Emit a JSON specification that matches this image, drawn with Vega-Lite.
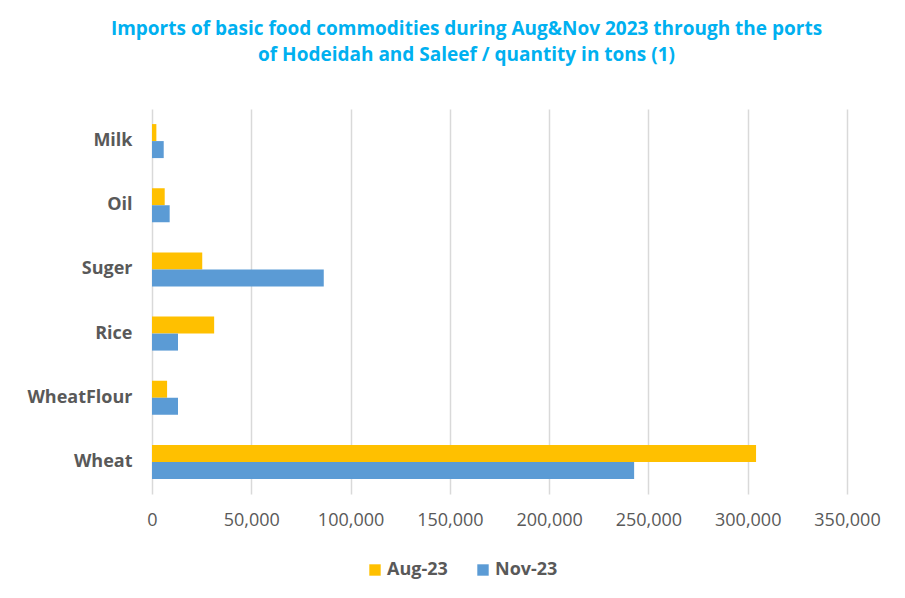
{
  "$schema": "https://vega.github.io/schema/vega-lite/v6.json",
  "width": 695,
  "height": 385,
  "autosize": {"type": "none"},
  "padding": {"left": 152, "top": 109, "right": 58, "bottom": 104},
  "background": "white",
  "title": {
    "text": ["Imports of basic food commodities during Aug&Nov 2023 through the ports", "of Hodeidah and Saleef / quantity in tons (1)"],
    "color": "#00B0F0",
    "font": "Open Sans",
    "fontSize": 19,
    "fontWeight": "bold",
    "lineHeight": 26,
    "anchor": "middle",
    "frame": "group",
    "dx": -33,
    "offset": 44
  },
  "data": {
    "values": [
      {"commodity": "Milk", "period": "Aug-23", "tons": 2200},
      {"commodity": "Milk", "period": "Nov-23", "tons": 5900},
      {"commodity": "Oil", "period": "Aug-23", "tons": 6400},
      {"commodity": "Oil", "period": "Nov-23", "tons": 8900},
      {"commodity": "Suger", "period": "Aug-23", "tons": 25300},
      {"commodity": "Suger", "period": "Nov-23", "tons": 86500},
      {"commodity": "Rice", "period": "Aug-23", "tons": 31300},
      {"commodity": "Rice", "period": "Nov-23", "tons": 13100},
      {"commodity": "WheatFlour", "period": "Aug-23", "tons": 7600},
      {"commodity": "WheatFlour", "period": "Nov-23", "tons": 13100},
      {"commodity": "Wheat", "period": "Aug-23", "tons": 304200},
      {"commodity": "Wheat", "period": "Nov-23", "tons": 242800}
    ]
  },
  "mark": {"type": "bar"},
  "encoding": {
    "y": {
      "field": "commodity",
      "type": "nominal",
      "sort": ["Milk", "Oil", "Suger", "Rice", "WheatFlour", "Wheat"],
      "scale": {"paddingInner": 0.47, "paddingOuter": 0.235},
      "axis": {
        "title": null,
        "domain": false,
        "ticks": false,
        "grid": false,
        "labelPadding": 20,
        "labelFont": "Open Sans",
        "labelFontSize": 18,
        "labelFontWeight": "bold",
        "labelColor": "#595959"
      }
    },
    "yOffset": {
      "field": "period",
      "type": "nominal",
      "sort": ["Aug-23", "Nov-23"],
      "scale": {"paddingInner": 0, "paddingOuter": 0}
    },
    "x": {
      "field": "tons",
      "type": "quantitative",
      "scale": {"domain": [0, 350000], "nice": false},
      "axis": {
        "title": null,
        "domain": false,
        "ticks": false,
        "values": [0, 50000, 100000, 150000, 200000, 250000, 300000, 350000],
        "format": ",d",
        "grid": true,
        "gridColor": "#D9D9D9",
        "gridWidth": 1.5,
        "labelFlush": false,
        "labelPadding": 17,
        "labelFont": "Open Sans",
        "labelFontSize": 18,
        "labelColor": "#595959"
      }
    },
    "color": {
      "field": "period",
      "type": "nominal",
      "sort": ["Aug-23", "Nov-23"],
      "scale": {"domain": ["Aug-23", "Nov-23"], "range": ["#FFC000", "#5B9BD5"]},
      "legend": {
        "title": null,
        "orient": "none",
        "direction": "horizontal",
        "legendX": 214,
        "legendY": 452,
        "symbolType": "square",
        "symbolSize": 130,
        "symbolStrokeWidth": 0,
        "labelOffset": 3,
        "labelFont": "Open Sans",
        "labelFontSize": 18,
        "labelFontWeight": "bold",
        "labelColor": "#595959",
        "columnPadding": 26
      }
    }
  },
  "config": {
    "view": {"stroke": null}
  }
}
